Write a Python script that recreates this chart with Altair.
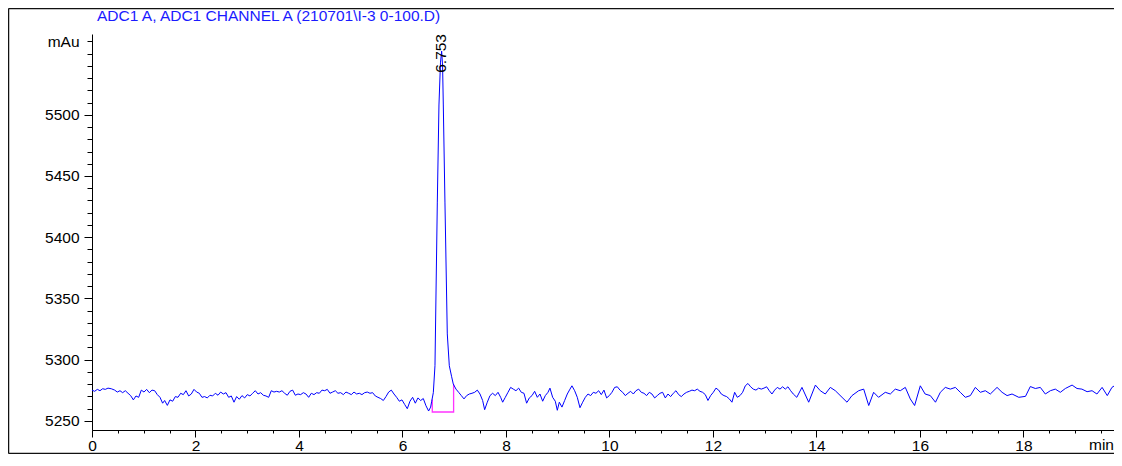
import altair as alt
import pandas as pd

# ---- data: (time [min], signal [mAu]) ----
trace_before_peak = [
    (0.000, 5275.1), (0.051, 5274.1), (0.103, 5275.7), (0.154, 5274.6), (0.206, 5276.2), (0.257, 5275.7),
    (0.309, 5276.7), (0.373, 5276.2), (0.438, 5275.1), (0.489, 5273.5), (0.541, 5274.6), (0.592, 5273.0),
    (0.644, 5274.6), (0.696, 5272.5), (0.747, 5270.6), (0.799, 5267.1), (0.850, 5270.3), (0.902, 5269.2),
    (0.953, 5275.1), (1.005, 5273.5), (1.056, 5275.7), (1.108, 5273.0), (1.159, 5275.1), (1.211, 5274.6),
    (1.262, 5271.4), (1.314, 5269.2), (1.365, 5264.4), (1.404, 5266.6), (1.456, 5262.6), (1.507, 5267.1),
    (1.559, 5266.0), (1.610, 5269.8), (1.662, 5269.2), (1.713, 5272.5), (1.765, 5271.4), (1.816, 5274.6),
    (1.868, 5270.3), (1.919, 5271.9), (1.971, 5275.7), (2.022, 5273.5), (2.074, 5272.5), (2.125, 5269.2),
    (2.177, 5269.8), (2.228, 5268.7), (2.280, 5270.9), (2.331, 5270.3), (2.383, 5272.5), (2.435, 5270.9),
    (2.486, 5273.5), (2.538, 5271.9), (2.589, 5273.0), (2.641, 5269.2), (2.692, 5270.3), (2.744, 5265.2),
    (2.795, 5269.8), (2.847, 5267.6), (2.898, 5270.6), (2.950, 5268.7), (3.001, 5271.4), (3.053, 5270.3),
    (3.104, 5272.5), (3.156, 5274.6), (3.208, 5271.9), (3.259, 5273.0), (3.311, 5270.9), (3.362, 5270.3),
    (3.414, 5269.2), (3.465, 5274.6), (3.517, 5273.5), (3.568, 5274.1), (3.620, 5273.5), (3.671, 5274.6),
    (3.723, 5272.5), (3.774, 5270.9), (3.826, 5274.1), (3.877, 5275.1), (3.929, 5270.9), (3.980, 5271.9),
    (4.032, 5271.4), (4.084, 5273.0), (4.135, 5271.9), (4.187, 5269.2), (4.238, 5272.5), (4.290, 5271.4),
    (4.341, 5273.0), (4.393, 5272.5), (4.444, 5275.1), (4.496, 5274.6), (4.547, 5275.7), (4.599, 5272.5),
    (4.650, 5273.5), (4.702, 5274.6), (4.753, 5272.5), (4.805, 5273.0), (4.857, 5271.4), (4.908, 5273.5),
    (4.960, 5272.5), (5.011, 5271.4), (5.063, 5273.5), (5.114, 5271.9), (5.166, 5272.5), (5.217, 5271.4),
    (5.269, 5273.0), (5.320, 5273.5), (5.372, 5272.5), (5.423, 5273.0), (5.475, 5270.3), (5.526, 5269.2),
    (5.578, 5268.2), (5.630, 5266.6), (5.681, 5269.8), (5.733, 5273.5), (5.784, 5275.1), (5.836, 5271.9),
    (5.887, 5269.2), (5.939, 5266.0), (5.990, 5267.1), (6.042, 5263.4), (6.093, 5259.9), (6.145, 5266.0),
    (6.196, 5269.2), (6.248, 5264.4), (6.299, 5268.7), (6.351, 5266.6), (6.402, 5268.2), (6.454, 5262.3),
    (6.505, 5258.0), (6.544, 5261.2),
]
trace_peak = [
    (6.565, 5266.0), (6.596, 5273.0), (6.628, 5295.0), (6.673, 5428.0), (6.705, 5508.0), (6.735, 5543.0),
    (6.757, 5552.0), (6.775, 5540.0), (6.789, 5508.0), (6.821, 5428.0), (6.866, 5321.0), (6.905, 5295.0),
    (6.950, 5286.0), (6.982, 5280.0),
]
trace_after_peak = [
    (7.034, 5275.9), (7.085, 5273.3), (7.137, 5270.6), (7.189, 5267.9), (7.240, 5270.6), (7.292, 5271.9),
    (7.343, 5272.5), (7.395, 5273.3), (7.446, 5275.1), (7.498, 5271.9), (7.549, 5266.6), (7.588, 5259.1),
    (7.639, 5265.2), (7.691, 5270.6), (7.742, 5272.5), (7.794, 5270.6), (7.846, 5273.3), (7.897, 5269.2),
    (7.936, 5265.2), (7.987, 5269.2), (8.039, 5273.3), (8.090, 5277.3), (8.142, 5275.9), (8.193, 5274.6),
    (8.245, 5276.7), (8.296, 5273.3), (8.348, 5272.5), (8.399, 5264.4), (8.451, 5268.7), (8.503, 5270.6),
    (8.554, 5274.1), (8.606, 5269.2), (8.657, 5271.9), (8.709, 5266.0), (8.760, 5270.6), (8.812, 5273.3),
    (8.850, 5276.7), (8.902, 5269.2), (8.953, 5266.0), (8.992, 5258.6), (9.031, 5265.2), (9.082, 5261.2),
    (9.134, 5266.6), (9.185, 5271.9), (9.237, 5275.9), (9.275, 5278.6), (9.327, 5274.6), (9.378, 5269.2),
    (9.430, 5260.7), (9.482, 5265.2), (9.533, 5269.2), (9.585, 5271.9), (9.636, 5270.6), (9.688, 5273.3),
    (9.739, 5272.5), (9.791, 5274.6), (9.842, 5271.4), (9.894, 5275.1), (9.945, 5268.7), (9.997, 5270.6),
    (10.048, 5273.3), (10.100, 5277.3), (10.152, 5277.8), (10.203, 5275.1), (10.255, 5273.3), (10.306, 5270.6),
    (10.358, 5272.5), (10.409, 5274.1), (10.461, 5271.9), (10.512, 5274.6), (10.564, 5275.9), (10.615, 5273.3),
    (10.667, 5272.5), (10.718, 5270.6), (10.770, 5273.3), (10.821, 5271.9), (10.873, 5268.7), (10.924, 5270.6),
    (10.976, 5272.5), (11.027, 5273.3), (11.079, 5268.7), (11.131, 5271.9), (11.182, 5269.8), (11.234, 5272.5),
    (11.285, 5274.6), (11.337, 5271.4), (11.388, 5269.8), (11.440, 5271.9), (11.491, 5273.3), (11.543, 5274.1),
    (11.594, 5275.1), (11.646, 5274.6), (11.697, 5275.9), (11.749, 5274.1), (11.800, 5273.3), (11.852, 5271.4),
    (11.903, 5266.6), (11.955, 5270.6), (12.007, 5273.3), (12.058, 5276.7), (12.110, 5275.1), (12.161, 5271.9),
    (12.213, 5270.6), (12.264, 5269.8), (12.316, 5267.9), (12.367, 5265.2), (12.419, 5273.3), (12.470, 5269.2),
    (12.522, 5270.6), (12.573, 5273.3), (12.625, 5278.6), (12.676, 5280.5), (12.728, 5277.8), (12.779, 5275.9),
    (12.831, 5275.1), (12.882, 5276.7), (12.934, 5275.9), (12.986, 5276.7), (13.037, 5277.8), (13.089, 5274.6),
    (13.140, 5271.9), (13.192, 5275.1), (13.243, 5277.3), (13.295, 5275.9), (13.346, 5277.8), (13.398, 5275.9),
    (13.449, 5277.8), (13.501, 5274.6), (13.552, 5271.9),
]
trace_tail = [
    (13.62, 5269.2), (13.72, 5277.3), (13.85, 5265.2), (13.98, 5279.2), (14.074, 5274.6), (14.17, 5271.9),
    (14.268, 5277.3), (14.365, 5274.6), (14.494, 5269.2), (14.59, 5265.2), (14.686, 5270.6), (14.816, 5274.6),
    (14.913, 5275.9), (15.01, 5262.5), (15.105, 5273.3), (15.20, 5269.2), (15.33, 5273.3), (15.427, 5271.9),
    (15.523, 5275.9), (15.62, 5274.6), (15.717, 5277.3), (15.813, 5267.9), (15.897, 5262.5), (16.007, 5278.6),
    (16.10, 5271.9), (16.20, 5270.6), (16.30, 5265.2), (16.394, 5273.3), (16.49, 5277.3), (16.587, 5275.9),
    (16.684, 5277.3), (16.78, 5273.3), (16.877, 5269.2), (16.974, 5270.6), (17.07, 5277.3), (17.167, 5273.3),
    (17.264, 5274.6), (17.36, 5271.9), (17.49, 5277.3), (17.587, 5273.3), (17.684, 5270.6), (17.78, 5271.9),
    (17.91, 5269.2), (18.04, 5270.0), (18.133, 5278.0), (18.23, 5276.4), (18.326, 5277.3), (18.423, 5271.9),
    (18.52, 5274.6), (18.616, 5275.9), (18.713, 5273.3), (18.81, 5276.4), (18.94, 5279.2), (19.035, 5276.4),
    (19.13, 5275.9), (19.23, 5273.8), (19.326, 5274.6), (19.42, 5271.9), (19.52, 5277.3), (19.62, 5270.6),
    (19.71, 5277.3), (19.78, 5279.2), (19.84, 5270.6), (19.89, 5262.5),
]

# integration baseline drawn under the peak
integ_time = [6.576, 6.576, 6.988, 6.988]
integ_level = [5267.5, 5257.2, 5257.2, 5280.0]

peak_rt = [6.753]
peak_label = ["6.753"]

x_major = [0, 2, 4, 6, 8, 10, 12, 14, 16, 18]
x_minor = [i * 0.5 for i in range(0, 40)]
y_major = [5250, 5300, 5350, 5400, 5450, 5500]
y_minor = list(range(5250, 5561, 10))

title_text = "ADC1 A, ADC1 CHANNEL A (210701\\I-3 0-100.D)"
x_unit = ["min"]

FONT = "Liberation Sans"
FS = 15.5
X_DOMAIN = [0, 19.75]
Y_DOMAIN = [5242.5, 5566]
W, H = 1022, 396

all_points = trace_before_peak + trace_peak + trace_after_peak + trace_tail
trace = pd.DataFrame(all_points, columns=["t", "v"])
integ = pd.DataFrame({"t": integ_time, "v": integ_level, "o": list(range(len(integ_time)))})
peaks = pd.DataFrame({"t": peak_rt, "label": peak_label, "v": [Y_DOMAIN[1]]})
unit_df = pd.DataFrame({"t": [X_DOMAIN[1]], "label": x_unit})
title_df = pd.DataFrame({"label": [title_text]})

xs = alt.Scale(domain=X_DOMAIN, nice=False, zero=False)
ys = alt.Scale(domain=Y_DOMAIN, nice=False, zero=False)

axis_common = dict(
    grid=False, domainColor="#000000", tickColor="#000000", labelColor="#000000",
    labelFont=FONT, labelFontSize=FS, domainWidth=1, tickWidth=1,
)

line = alt.Chart(trace).mark_line(color="#0000ff", strokeWidth=1, clip=True).encode(
    x=alt.X("t:Q", scale=xs, title=None,
            axis=alt.Axis(values=x_major, orient="bottom", tickSize=7, labelPadding=1,
                          labelFlush=False, labelOverlap=False, **axis_common)),
    y=alt.Y("v:Q", scale=ys, title=None,
            axis=alt.Axis(values=y_major, orient="left", tickSize=8, labelPadding=5,
                          format="d", labelOverlap=False, **axis_common)),
    order="t:Q",
)

integ_line = alt.Chart(integ).mark_line(color="#ff33ff", strokeWidth=1.3).encode(
    x=alt.X("t:Q", scale=xs, title=None,
            axis=alt.Axis(values=x_minor, orient="bottom", tickSize=3, labels=False,
                          domain=False, **axis_common)),
    y=alt.Y("v:Q", scale=ys, title=None,
            axis=alt.Axis(values=y_minor, orient="left", tickSize=5, labelPadding=8,
                          domain=False, labelOverlap=False,
                          labelExpr="datum.value == 5560 ? 'mAu' : ''", **axis_common)),
    order="o:Q",
)

peak_text = alt.Chart(peaks).mark_text(
    angle=270, align="right", baseline="middle", font=FONT, fontSize=FS, color="#000000"
).encode(
    x=alt.X("t:Q", scale=xs, axis=None),
    y=alt.Y("v:Q", scale=ys, axis=None),
    text="label:N",
)

unit_text = alt.Chart(unit_df).mark_text(
    align="right", baseline="top", font=FONT, fontSize=FS, color="#000000"
).encode(
    x=alt.X("t:Q", scale=xs, axis=None),
    y=alt.value(H + 8),
    text="label:N",
)

title_mark = alt.Chart(title_df).mark_text(
    align="left", baseline="middle", font=FONT, fontSize=FS, color="#1a1aff"
).encode(
    x=alt.value(5), y=alt.value(-18), text="label:N",
)

frame_color = "#111111"
frame_left = alt.Chart().mark_rule(color=frame_color, strokeWidth=1.5).encode(
    x=alt.value(-83.5), y=alt.value(-25.5), y2=alt.value(H + 23.5))
frame_top = alt.Chart().mark_rule(color=frame_color, strokeWidth=1.5).encode(
    x=alt.value(-83.5), x2=alt.value(W), y=alt.value(-25.5))
frame_bottom = alt.Chart().mark_rule(color=frame_color, strokeWidth=1.5).encode(
    x=alt.value(-83.5), x2=alt.value(W), y=alt.value(H + 23.5))

chart = alt.layer(
    integ_line, line, peak_text, unit_text, title_mark, frame_left, frame_top, frame_bottom
).resolve_axis(
    x="independent", y="independent"
).properties(
    width=W, height=H,
    padding={"left": 84, "top": 26, "right": 0, "bottom": 24},
    autosize=alt.AutoSizeParams(type="none"),
).configure(
    background="#ffffff", view=alt.ViewConfig(stroke=None)
)

chart.save("out.html", embed_options={"renderer": "svg", "actions": False})
